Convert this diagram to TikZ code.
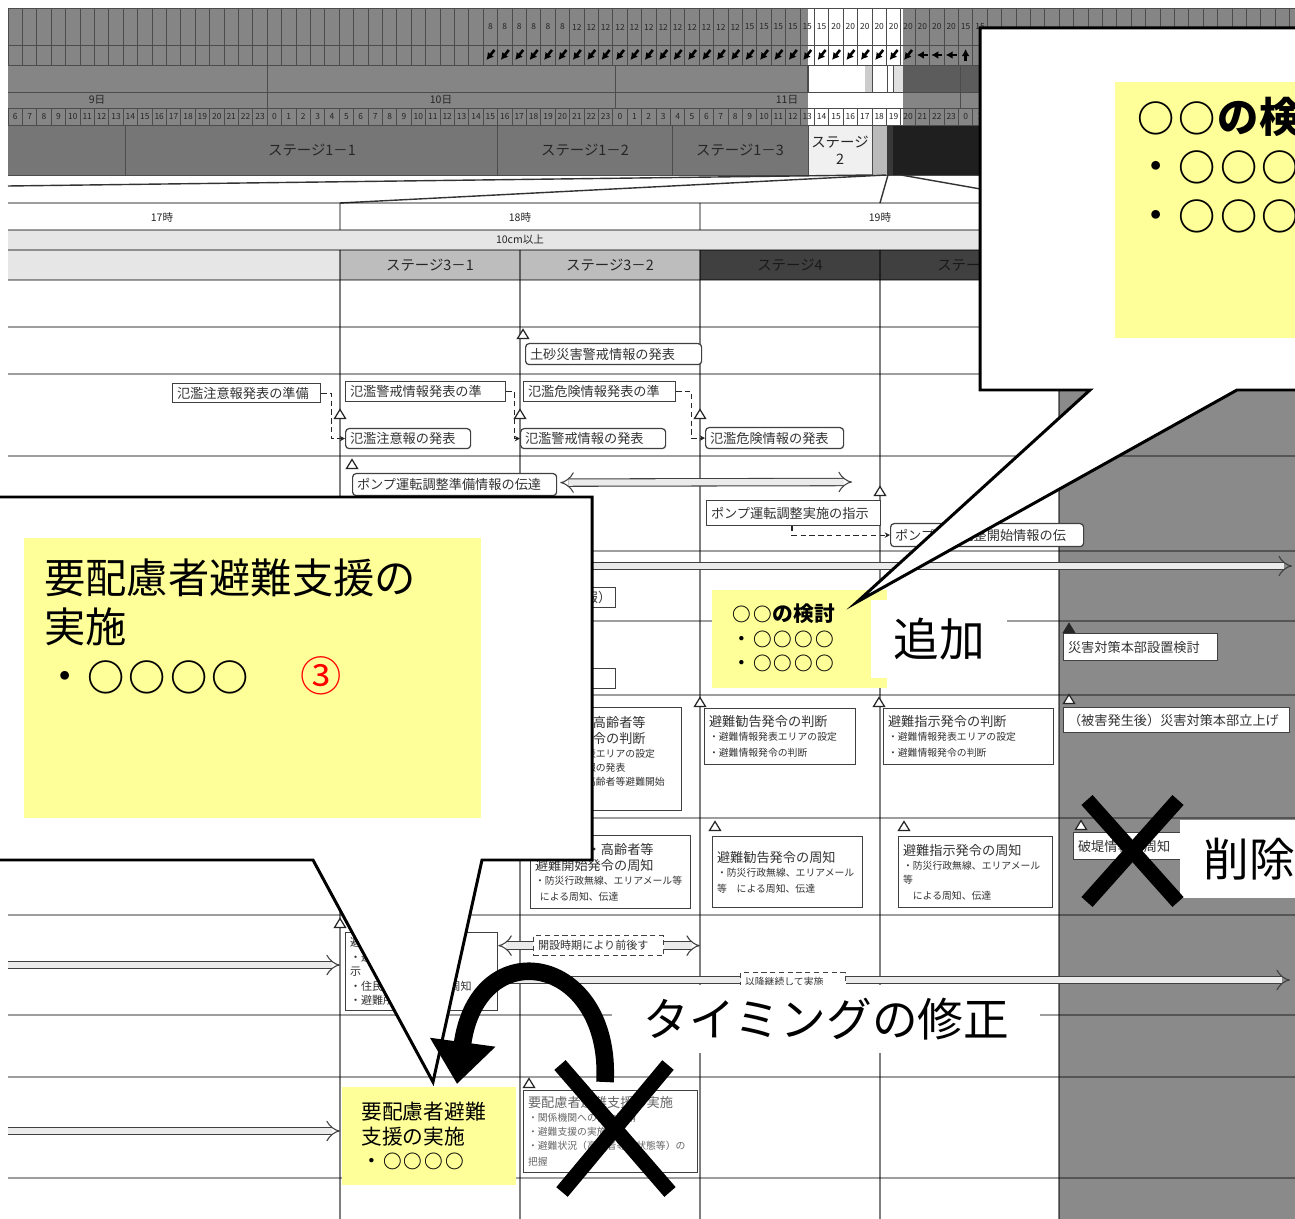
\documentclass[tikz,border=0pt]{standalone}
\usepackage{fontspec}
\setmainfont{Noto Sans CJK JP}
\usepackage{tikz}
\usetikzlibrary{arrows.meta, calc, positioning}

\definecolor{chartgray}{HTML}{858585}
\definecolor{stagegray}{HTML}{767676}
\definecolor{darkband}{HTML}{5C5C5C}
\definecolor{nightgray}{HTML}{1F1F1F}
\definecolor{lightrow}{HTML}{E6E6E6}
\definecolor{midrow}{HTML}{BDBDBD}
\definecolor{deeprow}{HTML}{404040}
\definecolor{sidegray}{HTML}{8A8A8A}
\definecolor{notepad}{HTML}{FFFF99}
\definecolor{mark3}{HTML}{FF0000}
\newcommand*{\cellfs}{\fontsize{4.8pt}{5.5pt}\selectfont}
\newcommand*{\headfs}{\fontsize{6pt}{7pt}\selectfont}
\newcommand*{\boxfs}{\fontsize{7.5pt}{9pt}\selectfont}
\newcommand*{\subfs}{\fontsize{5.6pt}{8pt}\selectfont}
\newcommand*{\midfs}{\fontsize{6.3pt}{8.2pt}\selectfont}
\newcommand*{\stagefs}{\fontsize{8.2pt}{9.6pt}\selectfont}
\newcommand*{\padfs}{\fontsize{11.8pt}{14pt}\selectfont}
\newcommand*{\bigfs}{\fontsize{23.5pt}{28pt}\selectfont}
\newcommand*{\notefs}{\fontsize{26pt}{30pt}\selectfont}
\newcommand*{\maru}{\makebox[1em]{\scalebox{0.9}{\bfseries ○}}}
\newcommand*{\mtri}[3][white]{\draw[trimark, fill=#1] (#2-5.5,#3+4.5) -- (#2+5.5,#3+4.5) -- (#2,#3-4.5) -- cycle;}

\tikzset{
  wh/.style 2 args={minimum width=#1*0.02cm, minimum height=#2*0.02cm},
  gridln/.style={black!70, line width=0.45pt},
  rowln/.style={black, opacity=0.38, line width=0.6pt},
  colln/.style={black, opacity=0.5, line width=0.6pt},
  zoomln/.style={black!80, line width=0.8pt},
  cellnum/.style={font=\cellfs, inner sep=0pt, text=black!85},
  stagelbl/.style={font=\stagefs, inner sep=0pt, text=black!85, align=center},
  flowdir/.style={line width=1.5pt, -{Latex[length=4pt,width=4.5pt]}},
  tbox/.style={draw=black!75, fill=white, line width=0.7pt, anchor=north west, inner xsep=2.5pt, inner ysep=1pt, align=left, font=\boxfs, text=black!80},
  rbox/.style={tbox, rounded corners=2pt},
  dbox/.style={tbox, densely dashed, font=\midfs},
  trimark/.style={draw=black!85, line width=0.7pt},
  linkdash/.style={densely dashed, draw=black!85, line width=0.6pt, -{Stealth[length=3pt,width=3pt]}},
  hollow/.style={draw=black!75, line width=0.6pt, double=black!8, double distance=3.6pt},
  callout/.style={draw=black, fill=white, line width=1.7pt, line join=miter},
  padfill/.style={fill=notepad, draw=none, anchor=north west, inner sep=0pt},
  padtext/.style={anchor=west, align=left, inner sep=0pt},
  whitelbl/.style={fill=white, draw=none, anchor=north west, font=\notefs, inner sep=0pt},
  bendarrow/.style={line width=10pt, -{Triangle[length=24pt,width=36pt]}},
  xmark/.style={line width=8.5pt},
}

\begin{document}
\begin{tikzpicture}[x=0.02cm, y=-0.02cm]
 \useasboundingbox (0,0) rectangle (1295,1219);
 \fill[white] (0,0) rectangle (1295,1219);

 \fill[chartgray] (8,8) rectangle (1295,125);
 \fill[stagegray] (8,125) rectangle (808,175);
 \fill[white] (808,8) rectangle (903,125);
 \fill[darkband] (903,65) rectangle (1295,92);
 \fill[black!20] (865,65) rectangle (872,92);
 \fill[black!12] (893,65) rectangle (903,92);
 \fill[black!6] (808,125) rectangle (872,175);
 \fill[black!27] (872,125) rectangle (887,175);
 \fill[black!78] (887,125) rectangle (893,175);
 \fill[nightgray] (893,125) rectangle (1295,175);
 \foreach \i in {0,...,89} {
  \draw[gridln] (8+14.4*\i,8) -- (8+14.4*\i,65);
  \draw[gridln] (8+14.4*\i,108) -- (8+14.4*\i,125);
 }
 \foreach \y in {8,45,65,92,108,125,175} \draw[gridln] (8,\y) -- (1295,\y);
 \foreach \x in {267,615,960} \draw[gridln] (\x,65) -- (\x,108);
 \draw[gridln, line width=1.2pt] (808,65) -- (808,92);
 \foreach \x in {872,887,893} \draw[gridln] (\x,65) -- (\x,92);
 \foreach \x in {125,497,672,808,872} \draw[gridln] (\x,125) -- (\x,175);

 \foreach \a/\b/\v in {33/38/8, 39/50/12, 51/56/15, 57/65/20, 66/67/15} {
  \foreach \i in {\a,...,\b} \node[cellnum] (v\i) at (15.2+14.4*\i,27) {\v};
 }
 \foreach \i in {33,...,62} \draw[flowdir] (19.2+14.4*\i,50) -- (11.2+14.4*\i,60);
 \foreach \i in {63,64,65} \draw[flowdir] (20.7+14.4*\i,55) -- (9.7+14.4*\i,55);
 \draw[flowdir] (15.2+14.4*66,61) -- (15.2+14.4*66,49);
 \foreach \i in {0,...,67} {
  \pgfmathtruncatemacro{\hr}{mod(6+\i,24)}
  \node[cellnum] (h\i) at (15.2+14.4*\i,116.5) {\hr};
 }
 \node[cellnum, font=\headfs] (d9) at (97,100) {9日};
 \node[cellnum, font=\headfs] (d10) at (441,100) {10日};
 \node[cellnum, font=\headfs] (d11) at (787,100) {11日};
 \node[stagelbl] (s11) at (312,150) {ステージ1－1};
 \node[stagelbl] (s12) at (585,150) {ステージ1－2};
 \node[stagelbl] (s13) at (740,150) {ステージ1－3};
 \node[stagelbl] (s2) at (840,150) {ステージ\\2};

 \draw[zoomln] (8,186) -- (872,175);
 \draw[zoomln] (340,203) -- (886,175);
 \draw[zoomln] (880,203) -- (888,175);
 \draw[zoomln] (1060,203) -- (901,175);

 \fill[sidegray] (1059,280) rectangle (1295,1219);
 \fill[lightrow] (8,230) rectangle (1295,250);
 \fill[lightrow] (8,250) rectangle (340,280);
 \fill[midrow] (340,250) rectangle (700,280);
 \fill[deeprow] (700,250) rectangle (1295,280);
 \foreach \y in {203,230,250,280,327,374,456,551,621,695,818,915,1015,1077,1178} \draw[rowln] (8,\y) -- (1295,\y);
 \foreach \x in {340,700,1060} \draw[rowln] (\x,203) -- (\x,230);
 \foreach \x in {340,520,700,880} \draw[colln] (\x,250) -- (\x,1219);
 \draw[colln] (1059,280) -- (1059,1219);
 \node[cellnum, font=\headfs] (t17) at (162,217) {17時};
 \node[cellnum, font=\headfs] (t18) at (520,217) {18時};
 \node[cellnum, font=\headfs] (t19) at (880,217) {19時};
 \node[cellnum, font=\headfs] (lvl) at (520,240) {10cm以上};
 \node[stagelbl] (s31) at (430,265) {ステージ3－1};
 \node[stagelbl] (s32) at (610,265) {ステージ3－2};
 \node[stagelbl, text=black!90] (s4) at (790,265) {ステージ4};
 \node[stagelbl, text=black!90] (s5) at (970,265) {ステージ5};

 \coordinate (lng0) at (8,566);
 \coordinate (lng1) at (1292,566);
 \draw[hollow, -{Implies}] (lng0) -- (lng1);
 \coordinate (la0) at (8,965);
 \coordinate (la1) at (340,965);
 \draw[hollow, -{Implies}] (la0) -- (la1);
 \coordinate (lb0) at (8,1131);
 \coordinate (lb1) at (340,1131);
 \draw[hollow, -{Implies}] (lb0) -- (lb1);
 \coordinate (cont0) at (497,980);
 \coordinate (cont1) at (1290,980);
 \draw[hollow, -{Implies}] (cont0) -- (cont1);

 \node[rbox, wh={176}{21}, text width=3.344cm] (dosha) at (525,343) {土砂災害警戒情報の発表};
 \node[tbox, wh={148}{19}, text width=2.784cm] (prep1) at (172,383) {氾濫注意報発表の準備};
 \node[tbox, wh={160}{20}, text width=3.024cm] (prep2) at (345,381) {氾濫警戒情報発表の準};
 \node[tbox, wh={152}{20}, text width=2.864cm] (prep3) at (523,381) {氾濫危険情報発表の準};
 \node[rbox, wh={125}{20}, text width=2.324cm] (issue1) at (345,428) {氾濫注意報の発表};
 \node[rbox, wh={145}{20}, text width=2.724cm] (issue2) at (520,428) {氾濫警戒情報の発表};
 \node[rbox, wh={138}{21}, text width=2.584cm] (issue3) at (705,427) {氾濫危険情報の発表};
 \draw[linkdash] (prep1.east) -- ++(10,0) |- (issue1.west);
 \draw[linkdash] (prep2.east) -- ++(8,0) |- (issue2.west);
 \draw[linkdash] (prep3.east) -- ++(15,0) |- (issue3.west);

 \node[rbox, wh={204}{22}, text width=3.904cm] (pumpprep) at (352,473) {ポンプ運転調整準備情報の伝達};
 \coordinate (pumpto) at (852,482);
 \draw[hollow, {Implies}-{Implies}] ($(pumpprep.east)+(3,-2)$) -- (pumpto);
 \node[tbox, wh={174}{25}, text width=3.304cm] (pumpord) at (706,500) {ポンプ運転調整実施の指示};
 \node[rbox, wh={193}{23}, text width=3.684cm] (pumpstart) at (890,523) {ポンプ運転調整開始情報の伝};
 \draw[linkdash] ($(pumpord.south west)+(86,0)$) |- (pumpstart.west);

 \node[tbox, wh={145}{20}, text width=2.724cm, align=right] (hidden1) at (470,587) {報）};
 \node[tbox, wh={55}{20}, text width=0.924cm] (hidden2) at (560,668) {};
 \node[tbox, wh={154}{27}, text width=2.904cm] (hqset) at (1063,633) {災害対策本部設置検討};
 \node[tbox, wh={226}{25}, text width=4.344cm] (hqup) at (1063,707) {（被害発生後）災害対策本部立上げ};

 \node[tbox, wh={159}{103}, text width=3.004cm] (eldjudge) at (522,707) {避難準備・高齢者等\\避難開始発令の判断\\\subfs ・避難情報発表エリアの設定\\・避難準備情報の発表\\・避難準備・高齢者等避難開始\\~};
 \node[tbox, wh={151}{56}, text width=2.844cm] (adjudge) at (704,708) {避難勧告発令の判断\\\subfs ・避難情報発表エリアの設定\\・避難情報発令の判断};
 \node[tbox, wh={170}{56}, text width=3.224cm] (ordjudge) at (883,708) {避難指示発令の判断\\\subfs ・避難情報発表エリアの設定\\・避難情報発令の判断};
 \node[tbox, wh={160}{73}, text width=3.024cm] (eldnotice) at (530,835) {避難準備・高齢者等\\避難開始発令の周知\\\subfs ・防災行政無線、エリアメール等\\\hspace{0.5em}による周知、伝達};
 \node[tbox, wh={150}{71}, text width=2.824cm] (adnotice) at (712,836) {避難勧告発令の周知\\\subfs ・防災行政無線、エリアメール\\等　による周知、伝達};
 \node[tbox, wh={154}{71}, text width=2.904cm] (ordnotice) at (898,836) {避難指示発令の周知\\\subfs ・防災行政無線、エリアメール\\等\\\hspace{1em}による周知、伝達};
 \node[tbox, wh={112}{27}, text width=2.064cm] (levee) at (1073,832) {破堤情報の周知};

 \node[tbox, wh={152}{78}, text width=2.864cm, font=\midfs] (shelter) at (345,932) {避難所開設\\・避難所の開設指\\示\\・住民への避難所の周知\\・避難所での受付};
 \node[dbox, wh={130}{20}, text width=2.424cm] (shiftnote) at (533,935) {開設時期により前後す};
 \coordinate (shiftto) at (700,945);
 \draw[hollow, -{Implies}] (shiftnote.east) -- (shiftnote.east -| shiftto);
 \draw[hollow, -{Implies}] (shiftnote.west) -- (shiftnote.west -| shelter.east);
 \node[dbox, wh={105}{18}, text width=1.924cm, font=\subfs] (contnote) at (740,972) {以降継続して実施};

 \node[tbox, wh={174}{82}, text width=3.304cm, text=black!60] (support) at (523,1090) {要配慮者避難支援の実施\\\subfs ・関係機関への協力要請\\・避難支援の実施\\・避難状況（高齢者等の状態等）の\\把握};

 \mtri{523}{334}
 \mtri{340}{414}
 \mtri{520}{414}
 \mtri{700}{414}
 \mtri{352}{464}
 \mtri{880}{491}
 \mtri[black!85]{1069}{628}
 \mtri{700}{702}
 \mtri{879}{702}
 \mtri{1069}{699}
 \mtri{715}{826}
 \mtri{904}{826}
 \mtri{1081}{825}
 \mtri{340}{923}
 \mtri{529}{1083}

 \node[padfill, wh={175}{98}] (addpad) at (712,590) {};
 \node[padtext, font=\padfs] (addtext) at (731,638) {\textbf{\maru\maru の検討}\\・\maru\maru\maru\maru\\・\maru\maru\maru\maru};

 \draw[callout] (980,28) -- (1300,28) -- (1300,390) -- (1237,390) -- (857,602) -- (1090,390) -- (980,390) -- cycle;
 \node[padfill, wh={185}{256}] (toppad) at (1115,82) {};
 \node[padtext, font=\bigfs] (topnote) at (1135,165) {\textbf{\maru\maru の検}\\・\maru\maru\maru\\・\maru\maru\maru};
 \node[whitelbl, wh={136}{78}] (addlbl) at (871,600) {追加};

 \draw[callout] (-5,497) -- (592,497) -- (592,860) -- (482,860) -- (433,1082) -- (313,860) -- (-5,860) -- cycle;
 \node[padfill, wh={457}{280}] (leftpad) at (24,538) {};
 \node[padtext, font=\bigfs] (leftnote) at (44,627) {要配慮者避難支援の\\実施\\・\maru\maru\maru\maru\hspace{1.2em}\textcolor{mark3}{③}};

 \node[padfill, wh={174}{98}] (supportpad) at (342,1087) {};
 \node[padtext, font=\padfs] (supporttext) at (361,1136) {要配慮者避難\\支援の実施\\・\maru\maru\maru\maru};

 \node[whitelbl, wh={428}{68}] (timelbl) at (612,985) {タイミングの修正};
 \coordinate (bendfrom) at (605,1082);
 \coordinate (bendto) at (457,1084);
 \draw[bendarrow] (bendfrom) .. controls (612,955) and (478,930) .. (bendto);

 \node[whitelbl, wh={138}{78}] (dellbl) at (1180,820) {削除};
 \draw[xmark] (1087,800) -- (1178,902);
 \draw[xmark] (1178,800) -- (1087,902);
 \draw[xmark] (560,1065) -- (670,1192);
 \draw[xmark] (668,1065) -- (562,1192);
\end{tikzpicture}
\end{document}
